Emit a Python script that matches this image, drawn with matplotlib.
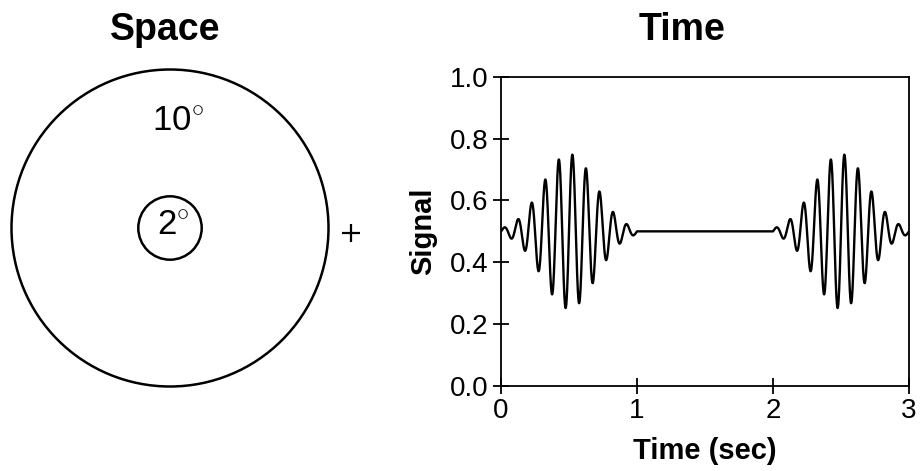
import numpy as np
import matplotlib
matplotlib.use("Agg")
import matplotlib.pyplot as plt
from matplotlib.patches import Circle

plt.rcParams['font.family'] = ['Liberation Sans', 'DejaVu Sans']
plt.rcParams['mathtext.fontset'] = 'custom'
plt.rcParams['mathtext.rm'] = 'Liberation Sans'

# stimulus geometry (degrees of visual angle)
ring_diameters = [10, 2]
ring_labels = ["10$^{\\circ}$", "2$^{\\circ}$"]
fixation_x = 5.71
fixation_y = -0.15

# temporal signal: two gabor bursts
burst_centers = [0.5, 2.5]
burst_freq = 10.0
burst_amp = 0.25
burst_sigma = 0.195
burst_halfwidth = 0.5
baseline = 0.5

x_ticks = [0, 1, 2, 3]
y_ticks = [0.0, 0.2, 0.4, 0.6, 0.8, 1.0]

W, H = 921, 471
fig = plt.figure(figsize=(W / 100, H / 100), dpi=100)

# ---- left panel: space ----
scale = 31.7  # px per degree
axL = fig.add_axes([0, (H - 400) / H, 400 / W, 340 / H])
cx_px, cy_px = 170, 168  # circle centre inside the axes (from top-left)
axL.set_xlim(-cx_px / scale, (400 - cx_px) / scale)
axL.set_ylim(-(340 - cy_px) / scale, cy_px / scale)
axL.axis('off')
for d in ring_diameters:
    axL.add_patch(Circle((0, 0), d / 2, fill=False, lw=1.8, ec='black'))
axL.text(0.24, 3.04, ring_labels[0], fontsize=25, ha='center', va='baseline')
axL.text(0.1, -0.24, ring_labels[1], fontsize=25, ha='center', va='baseline')
axL.plot([fixation_x], [fixation_y], marker='+', ms=13, mew=1.6, color='black')

# ---- right panel: time ----
axR = fig.add_axes([501 / W, (H - 386) / H, 408 / W, 309.3 / H])
t = np.linspace(0, 3, 3001)
sig = np.full_like(t, baseline)
for c in burst_centers:
    m = np.abs(t - c) <= burst_halfwidth
    env = np.exp(-(t[m] - c) ** 2 / (2 * burst_sigma ** 2))
    sig[m] += burst_amp * env * np.sin(2 * np.pi * burst_freq * t[m])
axR.plot(t, sig, color='black', lw=1.7)
axR.set_xlim(0, 3)
axR.set_ylim(0, 1)
axR.set_xticks(x_ticks)
axR.set_yticks(y_ticks)
axR.set_yticklabels([f"{v:.1f}" for v in y_ticks])
axR.tick_params(direction='inout', length=12, width=1.3, labelsize=20, pad=3)
for s in axR.spines.values():
    s.set_linewidth(1.3)
axR.set_xlabel("Time (sec)", fontsize=21, fontweight='bold', labelpad=9)
axR.set_ylabel("Signal", fontsize=21, fontweight='bold', labelpad=9)

# ---- titles ----
fig.text(165 / W, 1 - 40 / H, "Space", fontsize=27, fontweight='bold',
         ha='center', va='baseline')
fig.text(682 / W, 1 - 40 / H, "Time", fontsize=27, fontweight='bold',
         ha='center', va='baseline')

fig.savefig("out.png", dpi=100)
